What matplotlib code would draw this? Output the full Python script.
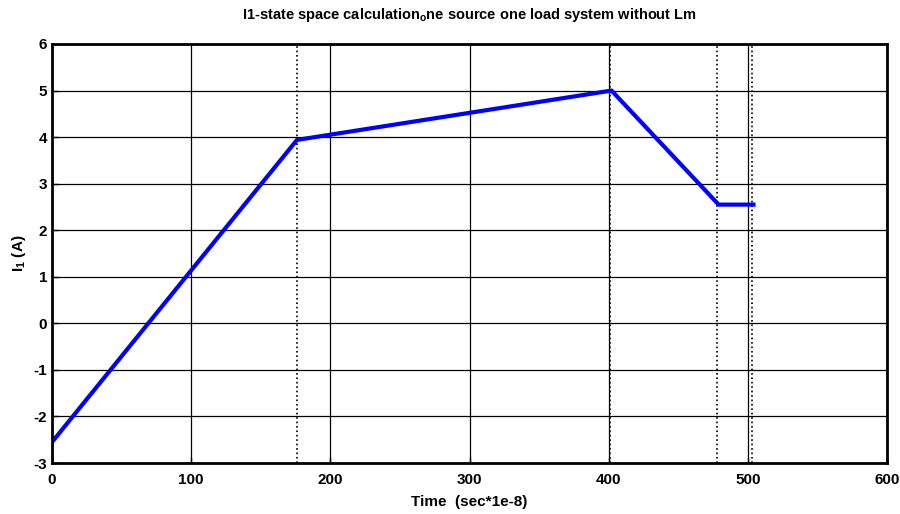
import matplotlib.pyplot as plt

plt.rcParams['font.family'] = ['Liberation Sans', 'DejaVu Sans']
plt.rcParams['mathtext.fontset'] = 'custom'
plt.rcParams['mathtext.bf'] = 'Liberation Sans:bold'
plt.rcParams['mathtext.rm'] = 'Liberation Sans:bold'
plt.rcParams['mathtext.default'] = 'bf'
plt.rcParams['axes.unicode_minus'] = False

# current waveform corner points
t = [0, 176, 402, 479, 504]
i1 = [-2.55, 3.94, 5.0, 2.55, 2.55]

# switching instants
t_switch = [176, 401, 478, 503]

xticks = [0, 100, 200, 300, 400, 500, 600]
yticks = [-3, -2, -1, 0, 1, 2, 3, 4, 5, 6]

fig = plt.figure(figsize=(9, 5.14), dpi=100)
ax = fig.add_axes([0.0578, 0.0992, 0.9278, 0.8152])

ax.grid(True, color='black', linestyle='-', linewidth=0.9)
for ts in t_switch:
    ax.axvline(ts, color='black', linestyle=':', linewidth=1.2)

ax.plot(t, i1, color='blue', linewidth=3)

ax.set_xlim(0, 600)
ax.set_ylim(-3, 6)
ax.set_xticks(xticks)
ax.set_yticks(yticks)
ax.tick_params(direction='in', length=4, width=1, labelsize=11)
ax.tick_params(axis='x', pad=7)
for lab in ax.get_xticklabels() + ax.get_yticklabels():
    lab.set_fontweight('bold')
for sp in ax.spines.values():
    sp.set_linewidth(2)

ax.set_title(r'I1-state space calculation$_{o}$ne source one load system without Lm',
             fontsize=10.5, fontweight='bold', pad=18)
ax.set_xlabel('Time  (sec*1e-8)', fontsize=11, fontweight='bold', labelpad=6)
ax.set_ylabel('I$_1$ (A)', fontsize=11, fontweight='bold', labelpad=4)

fig.savefig('out.png', dpi=100)
